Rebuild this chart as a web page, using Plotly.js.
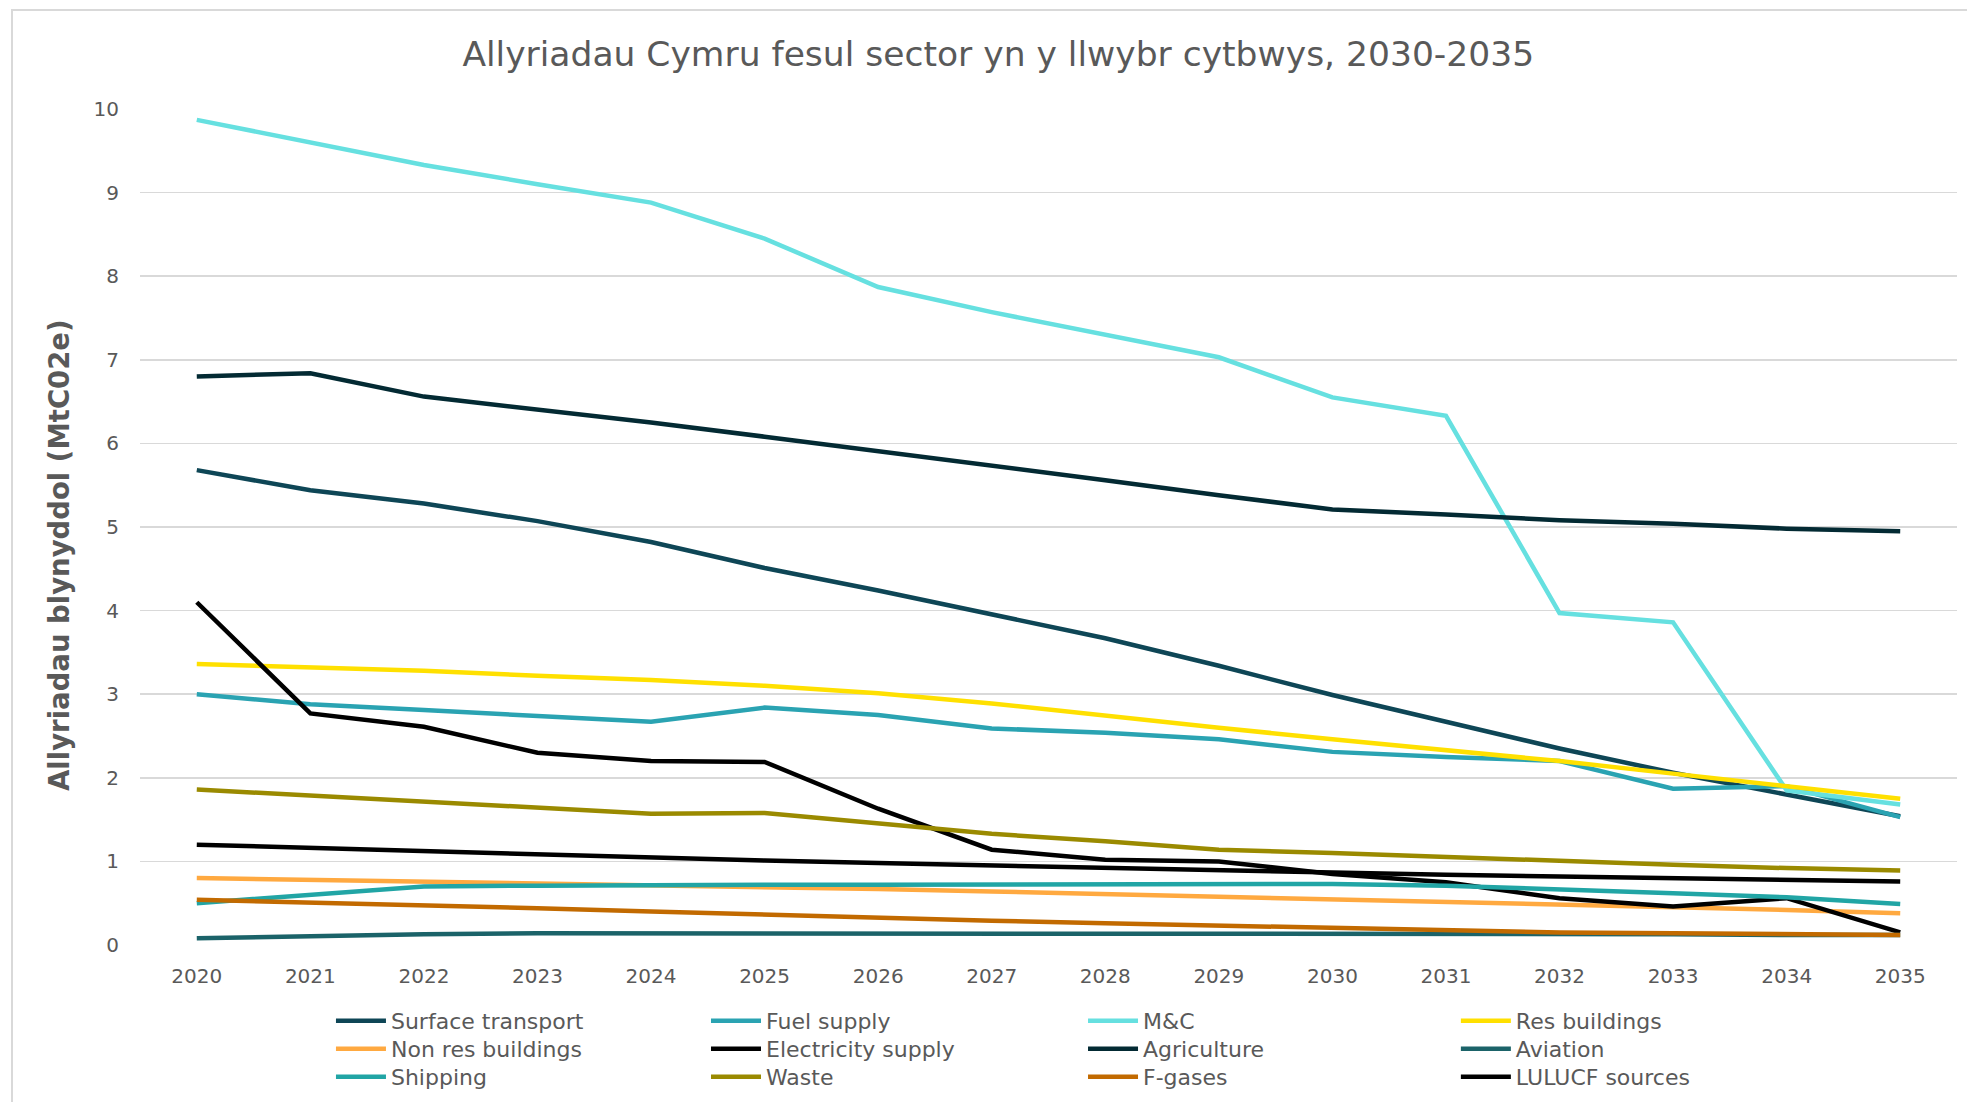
<!DOCTYPE html>
<html>
<head>
<meta charset="utf-8">
<script src="https://cdn.plot.ly/plotly-3.0.1.min.js"></script>
<style>
  html, body { margin: 0; padding: 0; background: #ffffff; }
  #frame { position: absolute; left: 11px; top: 9px; width: 1970px; height: 1100px; border: 2px solid #d9d9d9; box-sizing: border-box; }
  #chart { position: absolute; left: 0; top: 0; width: 1967px; height: 1102px; }
</style>
</head>
<body>
<div id="frame"></div>
<div id="chart"></div>
<script>
const years = ['2020','2021','2022','2023','2024','2025','2026','2027','2028','2029','2030','2031','2032','2033','2034','2035'];

const surfaceTransport = [5.68,5.44,5.28,5.07,4.82,4.51,4.24,3.96,3.67,3.34,2.99,2.67,2.35,2.06,1.80,1.54];
const fuelSupply       = [3.00,2.88,2.81,2.74,2.67,2.84,2.75,2.59,2.54,2.46,2.31,2.25,2.20,1.87,1.90,1.53];
const mAndC            = [9.87,9.60,9.33,9.10,8.88,8.45,7.87,7.57,7.30,7.03,6.55,6.33,3.97,3.86,1.85,1.68];
const resBuildings     = [3.36,3.32,3.28,3.22,3.17,3.10,3.01,2.89,2.74,2.60,2.46,2.33,2.20,2.05,1.90,1.75];
const nonResBuildings  = [0.80,0.78,0.76,0.74,0.72,0.70,0.67,0.64,0.61,0.58,0.55,0.52,0.49,0.46,0.42,0.38];
const electricity      = [4.10,2.77,2.61,2.30,2.20,2.19,1.63,1.14,1.02,1.00,0.85,0.75,0.56,0.46,0.56,0.15];
const agriculture      = [6.80,6.84,6.56,6.41,6.25,6.08,5.91,5.74,5.56,5.38,5.21,5.15,5.08,5.04,4.98,4.95];
const aviation         = [0.08,0.11,0.13,0.14,0.14,0.14,0.14,0.14,0.14,0.14,0.14,0.13,0.13,0.13,0.12,0.12];
const shipping         = [0.50,0.60,0.70,0.71,0.72,0.72,0.72,0.72,0.72,0.73,0.73,0.71,0.67,0.62,0.57,0.49];
const waste            = [1.86,1.79,1.72,1.65,1.57,1.58,1.45,1.33,1.24,1.14,1.10,1.05,1.00,0.96,0.92,0.89];
const fGases           = [0.54,0.51,0.48,0.44,0.40,0.36,0.33,0.29,0.26,0.23,0.20,0.17,0.15,0.14,0.13,0.12];
const lulucf           = [1.20,1.16,1.12,1.08,1.04,1.01,0.98,0.95,0.92,0.90,0.87,0.84,0.82,0.80,0.78,0.76];

const seriesNames = ['Surface transport','Fuel supply','M&C','Res buildings','Non res buildings','Electricity supply','Agriculture','Aviation','Shipping','Waste','F-gases','LULUCF sources'];
const seriesData  = [surfaceTransport, fuelSupply, mAndC, resBuildings, nonResBuildings, electricity, agriculture, aviation, shipping, waste, fGases, lulucf];
const seriesColors = ['#0e4656','#2aa3b2','#66e0e0','#ffe000','#ffa940','#000000','#032a33','#1b6369','#21a5a5','#9a8a00','#c26a00','#000000'];

function legendId(i) { return i === 0 ? 'legend' : 'legend' + (i + 1); }

const traces = seriesNames.map((name, i) => ({
  type: 'scatter',
  mode: 'lines',
  name: name,
  x: years,
  y: seriesData[i],
  line: { color: seriesColors[i], width: 4.5 },
  legend: legendId(i),
  hoverinfo: 'skip'
}));

const font = "'DejaVu Sans', sans-serif";
const grey = '#595959';

const colX = [0.1051, 0.3115, 0.5190, 0.7242];
const rowY = [-0.0658, -0.0993, -0.1328];

const layout = {
  width: 1967,
  height: 1102,
  paper_bgcolor: 'rgba(0,0,0,0)',
  plot_bgcolor: 'rgba(0,0,0,0)',
  margin: { l: 140, r: 10, t: 109, b: 157, autoexpand: false },
  font: { family: font, color: grey },
  title: {
    text: 'Allyriadau Cymru fesul sector yn y llwybr cytbwys, 2030-2035',
    font: { family: font, size: 34.5, color: grey },
    x: 0.5075, xanchor: 'center',
    y: 0.951, yanchor: 'middle'
  },
  xaxis: {
    type: 'category',
    range: [-0.5, 15.5],
    showgrid: false,
    zeroline: false,
    showline: false,
    ticks: '',
    tickfont: { family: font, size: 20, color: grey },
    ticklabelstandoff: 17
  },
  yaxis: {
    range: [0, 10],
    dtick: 1,
    showgrid: true,
    gridcolor: '#d9d9d9',
    gridwidth: 1.5,
    zeroline: false,
    showline: false,
    ticks: '',
    tickfont: { family: font, size: 20, color: grey },
    ticklabelstandoff: 20
  },
  annotations: [{
    text: '<b>Allyriadau blynyddol (MtC02e)</b>',
    xref: 'paper', yref: 'paper',
    x: -0.0446, y: 0.4665,
    xanchor: 'center', yanchor: 'middle',
    textangle: -90,
    showarrow: false,
    font: { family: font, size: 27.5, color: grey }
  }],
  showlegend: true
};

seriesNames.forEach((name, i) => {
  layout[legendId(i)] = {
    orientation: 'v',
    x: colX[i % 4], xanchor: 'left',
    y: rowY[Math.floor(i / 4)], yanchor: 'top',
    itemwidth: 50,
    font: { family: font, size: 22, color: grey },
    bgcolor: 'rgba(0,0,0,0)',
    borderwidth: 0
  };
});

Plotly.newPlot('chart', traces, layout, { displayModeBar: false, staticPlot: true });
</script>
</body>
</html>
